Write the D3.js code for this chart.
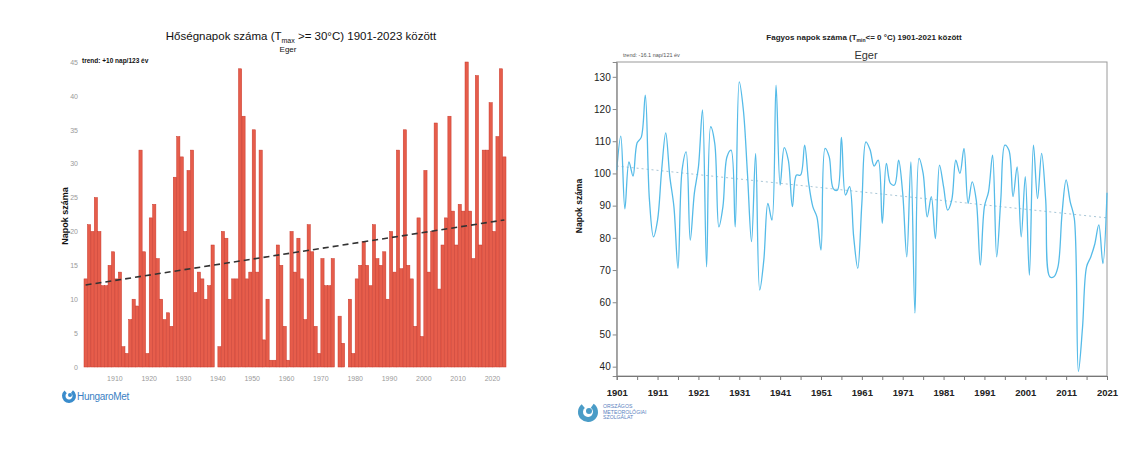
<!DOCTYPE html>
<html><head><meta charset="utf-8">
<script src="https://cdn.jsdelivr.net/npm/d3@7"></script>
<style>
body{margin:0;background:#fff}
svg{display:block;font-family:"Liberation Sans",Arial,sans-serif}
</style>
</head><body>
<svg id="c" width="1140" height="449"></svg>
<script>
// ---------- data: left chart (heat days, Tmax >= 30 °C) ----------
const heatYears = d3.range(1901, 2024);
const heatDays = [
  13,21,20,25,20,12,12,15,17,13,
  14,3,2,7,10,9,32,17,2,22,
  24,16,10,7,8,6,28,34,31,20,
  29,32,11,14,13,10,12,18,0,3,
  20,19,10,13,13,44,37,13,14,35,
  14,32,4,10,1,1,18,15,6,1,
  20,14,19,13,7,21,17,6,2,16,
  12,12,16,0,7.5,3.5,0,10,2,13,
  15,18.5,15,12,21,16,15,17,10,20,
  14,32,14.5,35,15,13,6,22,4.5,29,
  14,20,36,11.5,18,22,37,23,18,24,
  23,45,23,16,43,18,32,32,39,20,
  34,44,31
];
const heatTrend = [12.1, 21.7];           // trend line value at first / last year
const heatXTicks = [1910,1920,1930,1940,1950,1960,1970,1980,1990,2000,2010,2020];
const heatYTicks = [0,5,10,15,20,25,30,35,40,45];

// ---------- data: right chart (frost days, Tmin <= 0 °C) ----------
const frostYears = d3.range(1901, 2022);
const frostDays = [
  101,111.6,89,103.6,99.2,109.5,111.2,124.3,92,80.3,
  85.5,101,112.6,99,89.7,70.5,101,106.7,79.3,93.8,
  102,119.7,71,114.5,109.3,83.4,89.7,105.2,107.2,83.4,
  128.4,119.7,100,78.8,106.2,63.8,73,90.7,85.5,127.4,
  96.4,108,104.1,89.7,99.5,99.5,108.8,96.9,89.7,86.5,
  76.2,107.8,105.2,95.3,94.8,111.2,93.3,95.9,80.3,70.5,
  90.7,109.8,107.4,102.3,104.1,84.5,103.1,96.9,96.4,104.1,
  93.8,74.1,103.6,56.6,104.7,100,86.5,92.8,79.8,102.6,
  95.9,88.6,91.7,104.1,100,107.8,90.7,97.4,91.7,71.5,
  89.7,94.3,105.7,74.1,91.7,108.8,107.2,92.8,102,80.3,
  99,68.4,108.8,92.2,106.2,91.7,67.9,67.9,71,87.6,
  98,91.2,86,38.5,52,71,74,78,84,72,
  94
];
const frostTrend = [102.3, 86.2];
const frostXTicks = [1901,1911,1921,1931,1941,1951,1961,1971,1981,1991,2001,2011,2021];
const frostMinorTicks = [1901,1906,1911,1916,1921,1926,1931,1936,1941,1946,1951,1956,1961,1966,1971,1976,1981,1986,1991,1996,2001,2006,2011,2016,2021];
const frostYTicks = [40,50,60,70,80,90,100,110,120,130];

const svg = d3.select("#c");
svg.append("rect").attr("width",1140).attr("height",449).attr("fill","#fff");

// ================= LEFT CHART =================
const L = svg.append("g");
const xL = d3.scaleBand().domain(heatYears).range([84, 506]).paddingInner(0.06);
const yL = d3.scaleLinear().domain([0, 45]).range([367, 62]);

L.append("g").selectAll("rect").data(heatDays).join("rect")
  .attr("x", (d,i) => xL(heatYears[i]))
  .attr("width", xL.bandwidth())
  .attr("y", d => yL(d))
  .attr("height", d => yL(0) - yL(d))
  .attr("fill", "#e65d4b")
  .attr("stroke", "#c9382b")
  .attr("stroke-width", 0.5);

// trend
L.append("line")
  .attr("x1", xL(heatYears[0]) + xL.bandwidth()/2)
  .attr("x2", xL(heatYears[heatYears.length-1]) + xL.bandwidth()/2)
  .attr("y1", yL(heatTrend[0])).attr("y2", yL(heatTrend[1]))
  .attr("stroke", "#333").attr("stroke-width", 1.6)
  .attr("stroke-dasharray", "6,4");

// y axis labels
const yAxL = d3.axisLeft(yL).tickValues(heatYTicks).tickSize(0).tickPadding(3);
L.append("g").attr("transform","translate(81,0)").call(yAxL)
  .call(g => g.select(".domain").remove())
  .selectAll("text").attr("fill","#9a9a9a").attr("font-size",7);

// x axis labels
const xAxL = d3.axisBottom(xL).tickValues(heatXTicks).tickSize(0).tickPadding(6);
L.append("g").attr("transform","translate(" + (-xL.bandwidth()/2) + ",370)").call(xAxL)
  .call(g => g.select(".domain").remove())
  .selectAll("text").attr("fill","#9a9a9a").attr("font-size",7);

// titles
const tL = L.append("text").attr("x", 301).attr("y", 40).attr("text-anchor","middle")
  .attr("font-size", 11.5).attr("fill","#111");
tL.append("tspan").text("Hőségnapok száma (T");
tL.append("tspan").text("max").attr("font-size",7).attr("dy",3);
tL.append("tspan").text(" >= 30°C) 1901-2023 között").attr("dy",-3);
L.append("text").attr("x",288).attr("y",52).attr("text-anchor","middle")
  .attr("font-size",8).attr("fill","#111").text("Eger");
L.append("text").attr("x",82).attr("y",62.5)
  .attr("font-size",6.5).attr("font-weight","bold").attr("fill","#111").text("trend: +10 nap/123 év");
L.append("text").attr("transform","translate(68,216) rotate(-90)").attr("text-anchor","middle")
  .attr("font-size",9).attr("font-weight","bold").attr("fill","#111").text("Napok száma");

// logo left
const lg = L.append("g").attr("transform","translate(69,396)");
lg.append("path").attr("d", d3.arc()({innerRadius:3.5, outerRadius:7, startAngle:0.6, endAngle:5.6}))
  .attr("fill","#3a8ccc");
lg.append("circle").attr("r",2).attr("fill","#3a8ccc").attr("cx",1).attr("cy",-1);
L.append("text").attr("x",77).attr("y",400).attr("font-size",10).attr("fill","#3b7fc4")
  .attr("letter-spacing",-0.3).text("HungaroMet");

// ================= RIGHT CHART =================
const R = svg.append("g");
const xR = d3.scaleLinear().domain([1901, 2021]).range([616.7, 1107]);
const yR = d3.scaleLinear().domain([37.1, 134.6]).range([376, 62]);

// frame
R.append("rect").attr("x",616.7).attr("y",62).attr("width",1107-616.7).attr("height",376-62)
  .attr("fill","none").attr("stroke","#9a9a9a").attr("stroke-width",1);

// trend
R.append("line")
  .attr("x1", xR(frostYears[0])).attr("x2", xR(frostYears[frostYears.length-1]))
  .attr("y1", yR(frostTrend[0])).attr("y2", yR(frostTrend[1]))
  .attr("stroke","#a8c6d6").attr("stroke-width",1).attr("stroke-dasharray","2,3");

// line
R.append("path").datum(frostDays)
  .attr("d", d3.line().x((d,i) => xR(frostYears[i])).y(d => yR(d)).curve(d3.curveCatmullRom.alpha(0.5)))
  .attr("fill","none").attr("stroke","#55bbe8").attr("stroke-width",1.3);

// y axis
const yAxR = d3.axisLeft(yR).tickValues(frostYTicks).tickSize(4).tickPadding(2);
R.append("g").attr("transform","translate(616.7,0)").call(yAxR)
  .call(g => g.select(".domain").attr("stroke","#888"))
  .call(g => g.selectAll(".tick line").attr("stroke","#888"))
  .selectAll("text").attr("fill","#222").attr("font-size",10);

// x axis
const xAxR = d3.axisBottom(xR).tickValues(frostMinorTicks).tickSize(4).tickFormat("");
R.append("g").attr("transform","translate(0,376)").call(xAxR)
  .call(g => g.select(".domain").attr("stroke","#777"))
  .call(g => g.selectAll(".tick line").attr("stroke","#777"));
const xAxR2 = d3.axisBottom(xR).tickValues(frostXTicks).tickSize(0).tickPadding(13).tickFormat(d3.format("d"));
R.append("g").attr("transform","translate(0,376)").call(xAxR2)
  .call(g => g.select(".domain").remove())
  .selectAll("text").attr("fill","#222").attr("font-size",9.5).attr("font-weight","bold");

// titles
const tR = R.append("text").attr("x", 864).attr("y", 40).attr("text-anchor","middle")
  .attr("font-size", 8).attr("font-weight","bold").attr("fill","#222");
tR.append("tspan").text("Fagyos napok száma (T");
tR.append("tspan").text("min").attr("font-size",5).attr("dy",2);
tR.append("tspan").text("<= 0 °C) 1901-2021 között").attr("dy",-2);
R.append("text").attr("x",866).attr("y",59).attr("text-anchor","middle")
  .attr("font-size",11).attr("fill","#333").text("Eger");
R.append("text").attr("x",623).attr("y",57)
  .attr("font-size",5.5).attr("fill","#555").text("trend: -16.1 nap/121 év");
R.append("text").attr("transform","translate(582,206) rotate(-90)").attr("text-anchor","middle")
  .attr("font-size",8.5).attr("font-weight","bold").attr("fill","#111").text("Napok száma");

// logo right
const lg2 = R.append("g").attr("transform","translate(588,412)");
lg2.append("path").attr("d", d3.arc()({innerRadius:5, outerRadius:10, startAngle:0.6, endAngle:5.6}))
  .attr("fill","#4a9cc7");
lg2.append("circle").attr("r",3).attr("fill","#4a9cc7").attr("cx",1).attr("cy",-1);
const lt = R.append("text").attr("x",603).attr("y",408).attr("font-size",5.2).attr("fill","#5a7fc0");
lt.append("tspan").attr("x",603).attr("dy",0).text("ORSZÁGOS");
lt.append("tspan").attr("x",603).attr("dy",5.5).text("METEOROLÓGIAI");
lt.append("tspan").attr("x",603).attr("dy",5.5).text("SZOLGÁLAT");
</script>
</body></html>
